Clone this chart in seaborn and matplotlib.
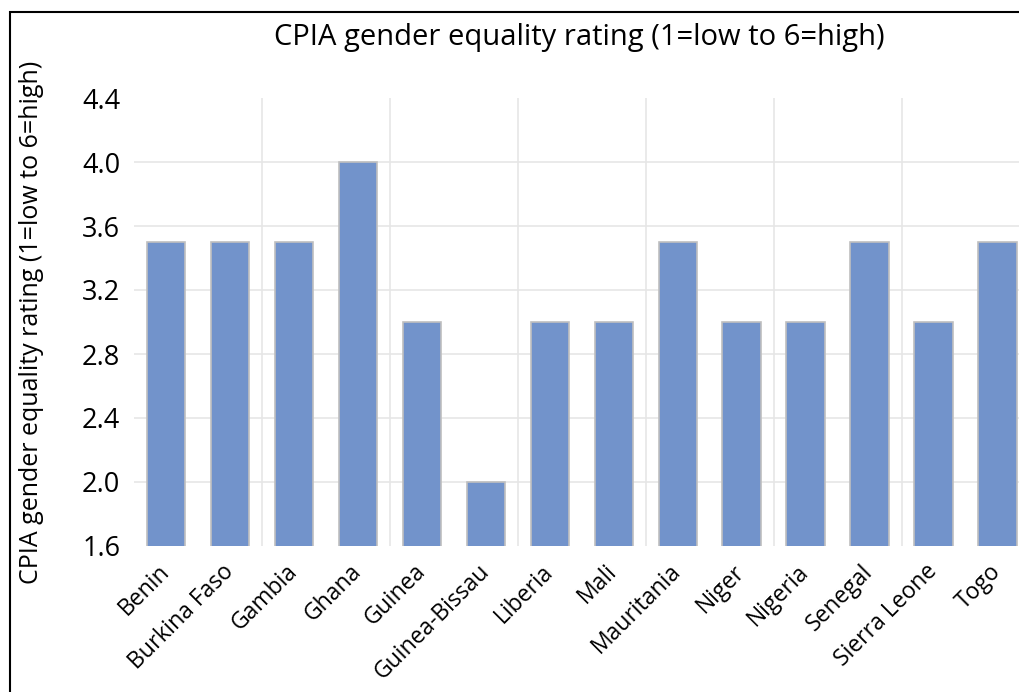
import matplotlib
matplotlib.use("Agg")
import matplotlib.pyplot as plt
import seaborn as sns
import pandas as pd
from matplotlib.patches import Rectangle

countries = ["Benin", "Burkina Faso", "Gambia", "Ghana", "Guinea", "Guinea-Bissau",
             "Liberia", "Mali", "Mauritania", "Niger", "Nigeria", "Senegal",
             "Sierra Leone", "Togo"]
ratings = [3.5, 3.5, 3.5, 4.0, 3.0, 2.0, 3.0, 3.0, 3.5, 3.0, 3.0, 3.5, 3.0, 3.5]
yticks = [1.6, 2.0, 2.4, 2.8, 3.2, 3.6, 4.0, 4.4]

sns.set_theme(style="white")
plt.rcParams['font.family'] = ['Open Sans', 'DejaVu Sans']
plt.rcParams['text.color'] = 'black'
plt.rcParams['axes.labelcolor'] = 'black'
plt.rcParams['xtick.color'] = 'black'
plt.rcParams['ytick.color'] = 'black'

df = pd.DataFrame({"country": countries, "rating": ratings})

fig = plt.figure(figsize=(10.2, 6.92), dpi=100)
ax = fig.add_axes([134/1020, 1-546/692, (1029.5-134)/1020, (546-98)/692])

sns.barplot(data=df, x="country", y="rating", ax=ax, color="#7293CB",
            saturation=1, width=0.6, edgecolor="#BFBFBF", linewidth=1.2, zorder=3)

ax.set_ylim(1.6, 4.4)
ax.set_xlim(-0.5, len(countries) - 0.5)
ax.set_yticks(yticks)
ax.set_yticklabels([f"{t:.1f}" for t in yticks], fontsize=19.5)
for t in yticks[1:-1]:
    ax.axhline(t, color="#E6E6E6", linewidth=1.2, zorder=0)
for k in range(1, len(countries), 2):
    ax.axvline(k + 0.5, color="#E6E6E6", linewidth=1.2, zorder=0)

ax.set_xticks(range(len(countries)))
ax.set_xticklabels(countries, rotation=45, ha="right", va="center",
                   rotation_mode="anchor", fontsize=16.5)
ax.tick_params(axis="x", length=0, pad=16)
ax.tick_params(axis="y", length=0, pad=10)
for s in ax.spines.values():
    s.set_visible(False)
ax.set_xlabel("")
ax.set_ylabel("CPIA gender equality rating (1=low to 6=high)", fontsize=18)
ax.yaxis.set_label_coords(-0.101, 0.5)

fig.text(579/1020, 1-38/692, "CPIA gender equality rating (1=low to 6=high)",
         ha="center", va="center", fontsize=21)

fig.patches.append(Rectangle((10/1020, -0.1), 1.2, 1-12/692+0.1, transform=fig.transFigure,
                             fill=False, edgecolor="black", linewidth=1.5, zorder=10))

fig.savefig("out.png", dpi=100)
